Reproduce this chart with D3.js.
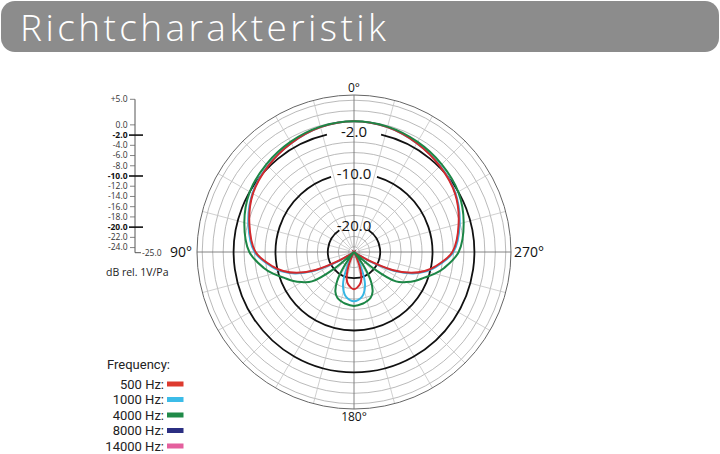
<!DOCTYPE html>
<html>
<head>
<meta charset="utf-8">
<script src="https://cdn.jsdelivr.net/npm/d3@7"></script>
<style>
  body { margin: 0; background: #fff; }
  svg { display: block; font-family: "Open Sans", sans-serif; }
</style>
</head>
<body>
<div id="chart-area"></div>
<script>
// angles (deg) of the left half, 0 = front, 90 = left side, 180 = rear
var angles = [0, 15, 30, 45, 60, 75, 90, 100, 105, 110, 115, 120, 125, 130, 135, 140, 145, 150, 155, 160, 165, 170, 180];
// level in dB at each angle (pattern is symmetric, right half mirrors it)
var red500 =    [0, -0.3, -1.0, -1.8, -2.7, -4.3, -6.2, -9.2, -11.0, -13.4, -16.9, -22.0, -25, -25, -25, -25, -25, -25, -24.0, -21.5, -19.6, -18.7, -17.9];
var cyan1000 =  [0, -0.3, -1.0, -1.7, -2.6, -4.1, -6.0, -9.0, -10.7, -13.0, -16.4, -21.0, -25, -25, -25, -25, -25, -25, -22.0, -19.0, -17.3, -16.3, -15.6];
var green4000 = [0, -0.2, -0.7, -1.3, -2.0, -3.3, -5.0, -7.5, -9.0, -10.7, -12.0, -13.5, -15.2, -20.0, -25, -25, -22.0, -18.5, -16.6, -15.7, -15.3, -15.0, -14.7];

var series = [
  { name: "1000 Hz", values: cyan1000, colour: "#36b6e4" },
  { name: "500 Hz", values: red500, colour: "#d3292c" },
  { name: "4000 Hz", values: green4000, colour: "#1c8646" }
];

var legendNames = ["500 Hz:", "1000 Hz:", "4000 Hz:", "8000 Hz:", "14000 Hz:"];
var legendColours = ["#dd3a2f", "#3cbce8", "#1f8a48", "#2b2f82", "#e4609e"];

var grayRings = [4, 2, 0, -4, -6, -8, -12, -14, -16, -18, -22, -24];
var blackRings = [-2, -10, -20];
var ringGap = { "-2": 13, "-10": 17, "-20": 34 }; // half gap (deg) for labels
var scaleTicks = [5, 0, -2, -4, -6, -8, -10, -12, -14, -16, -18, -20, -22, -24];
var majorTicks = [-2, -10, -20];
var degreeLabels = ["0°", "90°", "180°", "270°"];

var svg = d3.select("#chart-area")
    .append("svg")
    .attr("width", 720)
    .attr("height", 454);

// title bar
svg.append("rect")
    .attr("x", 1).attr("y", 1)
    .attr("width", 718).attr("height", 51)
    .attr("rx", 14)
    .attr("fill", "#8c8c8c");
svg.append("text")
    .attr("x", 20).attr("y", 41)
    .attr("fill", "#fff")
    .attr("font-size", 37)
    .attr("font-weight", 300)
    .attr("textLength", 366)
    .attr("lengthAdjust", "spacing")
    .text("Richtcharakteristik");

// polar chart
var cx = 354, cy = 252, R = 157;
var r = d3.scaleLinear().domain([-25, 5]).range([0, R]).clamp(true);
var g = svg.append("g").attr("transform", "translate(" + cx + "," + cy + ")");

g.selectAll(".gray-ring")
    .data(grayRings)
    .enter()
    .append("circle")
    .attr("r", (d) => r(d))
    .attr("fill", "none")
    .attr("stroke", "#a8a8a8")
    .attr("stroke-width", 0.8);

// spokes every 15 degrees
var spokes = d3.range(0, 360, 15).filter((a) => a % 90 != 0);
g.selectAll(".spoke")
    .data(spokes)
    .enter()
    .append("line")
    .attr("x1", (d) => r(-24) * Math.sin(d * Math.PI / 180))
    .attr("y1", (d) => -r(-24) * Math.cos(d * Math.PI / 180))
    .attr("x2", (d) => R * Math.sin(d * Math.PI / 180))
    .attr("y2", (d) => -R * Math.cos(d * Math.PI / 180))
    .attr("stroke", "#c4c4c4")
    .attr("stroke-width", 0.8);

// main axes
g.append("line").attr("x1", -R).attr("x2", R).attr("y1", 0).attr("y2", 0)
    .attr("stroke", "#777").attr("stroke-width", 0.9);
g.append("line").attr("x1", 0).attr("x2", 0).attr("y1", -R).attr("y2", R)
    .attr("stroke", "#777").attr("stroke-width", 0.9);

g.append("circle").attr("r", R)
    .attr("fill", "none").attr("stroke", "#666").attr("stroke-width", 1);

// black rings with a gap at the top for their labels
var arc = d3.arc();
g.selectAll(".black-ring")
    .data(blackRings)
    .enter()
    .append("path")
    .attr("d", (d) => {
        var gap = ringGap[d] * Math.PI / 180;
        return arc({ innerRadius: r(d), outerRadius: r(d), startAngle: gap, endAngle: 2 * Math.PI - gap });
    })
    .attr("fill", "none")
    .attr("stroke", "#111")
    .attr("stroke-width", 1.8);

var radial = d3.lineRadial()
    .angle((d) => d[0])
    .radius((d) => d[1])
    .curve(d3.curveCatmullRomClosed.alpha(0.5));

series.forEach((s) => {
    var pts = [];
    angles.forEach((a, i) => {
        pts.push([-a * Math.PI / 180, r(s.values[i])]);
    });
    for (var i = angles.length - 2; i > 0; i--) {
        pts.push([angles[i] * Math.PI / 180, r(s.values[i])]);
    }
    g.append("path")
        .attr("d", radial(pts))
        .attr("fill", "none")
        .attr("stroke", s.colour)
        .attr("stroke-width", 2);
});

// ring labels
g.selectAll(".ring-label")
    .data(blackRings)
    .enter()
    .append("text")
    .attr("x", 0)
    .attr("y", (d) => -r(d) + 5)
    .attr("text-anchor", "middle")
    .attr("font-size", 15)
    .attr("fill", "#111")
    .text((d) => d.toFixed(1));

// degree labels
var degPos = [[0, -160, "middle"], [-162, 5, "end"], [0, 169, "middle"], [160, 5, "start"]];
g.selectAll(".deg")
    .data(degreeLabels)
    .enter()
    .append("text")
    .attr("x", (d, i) => degPos[i][0])
    .attr("y", (d, i) => degPos[i][1])
    .attr("text-anchor", (d, i) => degPos[i][2])
    .attr("font-size", (d, i) => (i % 2 ? 14 : 12))
    .attr("fill", "#111")
    .text((d) => d);

// left dB scale
var y = d3.scaleLinear().domain([5, -25]).range([99.3, 252.7]);
var sx = 135;
svg.append("path")
    .attr("d", "M" + sx + "," + y(5) + "V" + y(-25) + "H" + (sx + 6))
    .attr("fill", "none")
    .attr("stroke", "#555")
    .attr("stroke-width", 1);
var ticks = svg.selectAll(".tick")
    .data(scaleTicks)
    .enter()
    .append("g")
    .attr("transform", (d) => "translate(0," + y(d) + ")");
ticks.append("line")
    .attr("x1", (d) => majorTicks.includes(d) ? sx - 6 : sx - 5)
    .attr("x2", (d) => majorTicks.includes(d) ? sx + 8 : sx)
    .attr("stroke", (d) => majorTicks.includes(d) ? "#111" : "#666")
    .attr("stroke-width", (d) => majorTicks.includes(d) ? 1.6 : 0.8);
ticks.append("text")
    .attr("x", sx - 7.5)
    .attr("dy", "0.34em")
    .attr("text-anchor", "end")
    .attr("font-size", 8.5)
    .attr("font-weight", (d) => majorTicks.includes(d) ? "bold" : "normal")
    .attr("fill", (d) => majorTicks.includes(d) ? "#111" : "#333")
    .text((d) => (d > 0 ? "+" : "") + d.toFixed(1));
svg.append("text")
    .attr("x", sx + 7).attr("y", y(-25))
    .attr("dy", "0.34em")
    .attr("font-size", 8.5)
    .attr("fill", "#333")
    .text("-25.0");
svg.append("text")
    .attr("x", 106).attr("y", 276)
    .attr("font-size", 10.5)
    .attr("fill", "#222")
    .text("dB rel. 1V/Pa");

// legend
svg.append("text")
    .attr("x", 107).attr("y", 369)
    .attr("font-family", "Roboto, sans-serif")
    .attr("font-size", 13)
    .attr("fill", "#222")
    .text("Frequency:");
var leg = svg.selectAll(".leg")
    .data(legendNames)
    .enter()
    .append("g")
    .attr("transform", (d, i) => "translate(0," + (384 + i * 15.5) + ")");
leg.append("text")
    .attr("x", 164)
    .attr("dy", "0.36em")
    .attr("text-anchor", "end")
    .attr("font-family", "Roboto, sans-serif")
    .attr("font-size", 13)
    .attr("fill", "#222")
    .text((d) => d);
leg.append("rect")
    .attr("x", 167).attr("y", -2.5)
    .attr("width", 16.5).attr("height", 5)
    .attr("fill", (d, i) => legendColours[i]);
</script>
</body>
</html>
